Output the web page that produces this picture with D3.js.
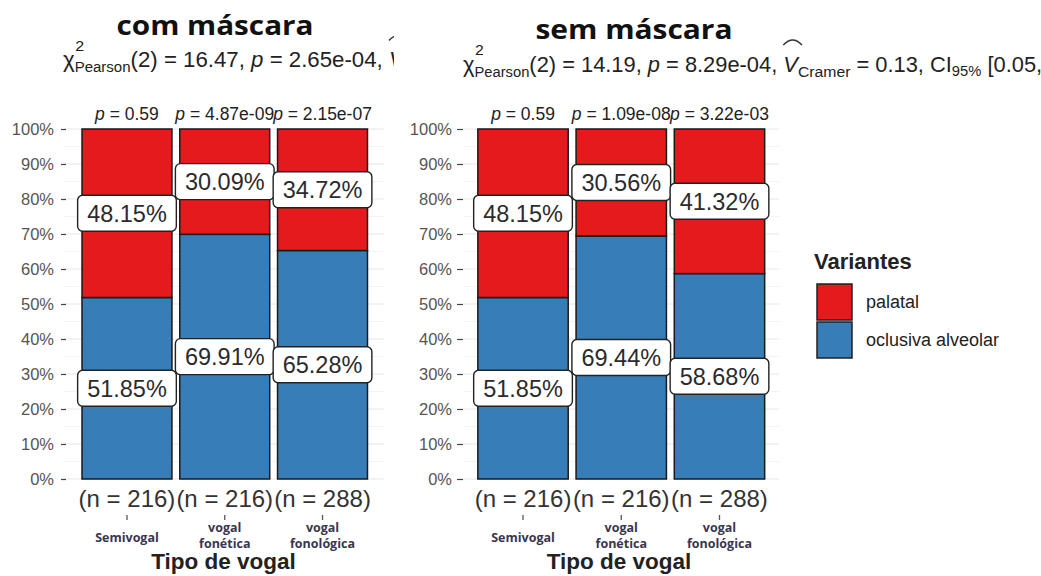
<!DOCTYPE html>
<html><head><meta charset="utf-8">
<script src="https://cdn.jsdelivr.net/npm/d3@7"></script>
<style>body{margin:0;background:#fff;}svg{display:block;}</style>
</head><body>
<script>
// ---------- data ----------
const categories = ["Semivogal", "vogal fonética", "vogal fonológica"];
const categoryLines = [["Semivogal"], ["vogal", "fonética"], ["vogal", "fonológica"]];
const variants = ["palatal", "oclusiva alveolar"];
const panelTitles = ["com máscara", "sem máscara"];
const comPalatal = [48.15, 30.09, 34.72];
const comOclusiva = [51.85, 69.91, 65.28];
const semPalatal = [48.15, 30.56, 41.32];
const semOclusiva = [51.85, 69.44, 58.68];
const comPValues = ["0.59", "4.87e-09", "2.15e-07"];
const semPValues = ["0.59", "1.09e-08", "3.22e-03"];
const comN = [216, 216, 288];
const semN = [216, 216, 288];
const comStats = ["2", "16.47", "2.65e-04", "0.14", "0.06", "1.00", "720"];
const semStats = ["2", "14.19", "8.29e-04", "0.13", "0.05", "1.00", "720"];
const yTicks = [0, 10, 20, 30, 40, 50, 60, 70, 80, 90, 100];
const yMinor = [5, 15, 25, 35, 45, 55, 65, 75, 85, 95];

const palette = {"palatal": "#E41A1C", "oclusiva alveolar": "#377EB8"};
const SANS = "'Liberation Sans', Arial, sans-serif";
const OPEN = "'Open Sans', 'Noto Sans', sans-serif";

const panels = [
  {title: panelTitles[0], pal: comPalatal, oc: comOclusiva, pv: comPValues, n: comN, stats: comStats,
   x0: 78.1, x1: 371.4, gx0: 64, gx1: 384, axisX: 66, tickSize: 5, tickPad: 7,
   titleX: 215, titleY: 35, subX: 63, subY: 67, subScale: 1.035, clip: [0, 394], xTitleX: 223.5},
  {title: panelTitles[1], pal: semPalatal, oc: semOclusiva, pv: semPValues, n: semN, stats: semStats,
   x0: 473.9, x1: 768.6, gx0: 463, gx1: 779, axisX: 463, tickSize: 6, tickPad: 5,
   titleX: 634, titleY: 38.5, subX: 463, subY: 71.5, subScale: 1.017, clip: [398, 1041], xTitleX: 619}
];

const W = 1041, H = 576;
const svg = d3.select("body").append("svg").attr("width", W).attr("height", H);
const defs = svg.append("defs");

const y = d3.scaleLinear().domain([0, 100]).range([479, 129]);

panels.forEach((P, i) => {
  defs.append("clipPath").attr("id", "clip" + i)
    .append("rect").attr("x", P.clip[0]).attr("y", 0).attr("width", P.clip[1] - P.clip[0]).attr("height", H);
  const g = svg.append("g").attr("clip-path", `url(#clip${i})`);

  const x = d3.scaleBand().domain(categories).range([P.x0, P.x1]).paddingInner(0.08).paddingOuter(0.04);

  // gridlines
  g.append("g").selectAll("line.minor").data(yMinor).join("line")
    .attr("x1", P.gx0).attr("x2", P.gx1).attr("y1", d => y(d)).attr("y2", d => y(d))
    .attr("stroke", "#f0f0f0").attr("stroke-width", 0.8);
  g.append("g").selectAll("line.major").data(yTicks).join("line")
    .attr("x1", P.gx0).attr("x2", P.gx1).attr("y1", d => y(d)).attr("y2", d => y(d))
    .attr("stroke", "#e6e6e6").attr("stroke-width", 1);

  // stacked bars
  const rows = categories.map((c, j) => ({cat: c, "oclusiva alveolar": P.oc[j], "palatal": P.pal[j]}));
  const series = d3.stack().keys(["oclusiva alveolar", "palatal"])(rows);
  g.append("g").selectAll("g").data(series).join("g")
    .attr("fill", s => palette[s.key])
    .selectAll("rect").data(s => s).join("rect")
    .attr("x", d => x(d.data.cat)).attr("width", x.bandwidth())
    .attr("y", d => y(d[1])).attr("height", d => y(d[0]) - y(d[1]))
    .attr("stroke", "#1a1a1a").attr("stroke-width", 1.5);

  // y axis
  const ax = g.append("g").attr("transform", `translate(${P.axisX},0)`)
    .call(d3.axisLeft(y).tickValues(yTicks).tickFormat(d => d + "%").tickSize(P.tickSize).tickPadding(P.tickPad));
  ax.select(".domain").remove();
  ax.selectAll(".tick line").attr("stroke", "#444").attr("stroke-width", 1.2);
  ax.selectAll(".tick text").attr("font-family", SANS).attr("font-size", 16.5).attr("fill", "#555");

  // percentage labels
  const labels = [];
  categories.forEach((c, j) => {
    labels.push({cat: c, v: P.pal[j], mid: P.oc[j] + P.pal[j] / 2});
    labels.push({cat: c, v: P.oc[j], mid: P.oc[j] / 2});
  });
  const lg = g.append("g");
  labels.forEach(L => {
    const cx = x(L.cat) + x.bandwidth() / 2, cy = y(L.mid);
    const grp = lg.append("g");
    const rect = grp.append("rect");
    const t = grp.append("text").attr("x", cx).attr("y", cy + 8.3)
      .attr("text-anchor", "middle").attr("font-family", SANS).attr("font-size", 23.5)
      .attr("fill", "#2b2b2b").text(L.v.toFixed(2) + "%");
    const w = t.node().getComputedTextLength() + 19;
    rect.attr("x", cx - w / 2).attr("y", cy - 18).attr("width", w).attr("height", 36)
      .attr("rx", 5).attr("fill", "#fff").attr("stroke", "#222").attr("stroke-width", 1.4);
  });

  // p-values above bars
  categories.forEach((c, j) => {
    const t = g.append("text").attr("x", x(c) + x.bandwidth() / 2).attr("y", 120)
      .attr("text-anchor", "middle").attr("font-family", SANS).attr("font-size", 17.5).attr("fill", "#222");
    t.append("tspan").attr("font-style", "italic").text("p");
    t.append("tspan").text(" = " + P.pv[j]);
  });

  // n labels
  categories.forEach((c, j) => {
    g.append("text").attr("x", x(c) + x.bandwidth() / 2).attr("y", 507)
      .attr("text-anchor", "middle").attr("font-family", SANS).attr("font-size", 24).attr("fill", "#333")
      .text(`(n = ${P.n[j]})`);
  });

  // category ticks and labels
  categories.forEach((c, j) => {
    const cx = x(c) + x.bandwidth() / 2;
    g.append("line").attr("x1", cx).attr("x2", cx).attr("y1", 515).attr("y2", 520)
      .attr("stroke", "#555").attr("stroke-width", 1.3);
    const lines = categoryLines[j];
    const t = g.append("text").attr("text-anchor", "middle").attr("font-family", OPEN)
      .attr("font-weight", "bold").attr("font-size", 12.5).attr("fill", "#3a3550");
    if (lines.length === 1) {
      t.append("tspan").attr("x", cx).attr("y", 542).text(lines[0]);
    } else {
      t.append("tspan").attr("x", cx).attr("y", 532).text(lines[0]);
      t.append("tspan").attr("x", cx).attr("y", 548).text(lines[1]);
    }
  });

  // x axis title
  g.append("text").attr("x", P.xTitleX).attr("y", 569).attr("text-anchor", "middle")
    .attr("font-family", SANS).attr("font-weight", "bold").attr("font-size", 22.5).attr("fill", "#222")
    .text("Tipo de vogal");

  // panel title
  g.append("text").attr("x", P.titleX).attr("y", P.titleY).attr("text-anchor", "middle")
    .attr("font-family", OPEN).attr("font-weight", "bold").attr("font-size", 26).attr("fill", "#111")
    .attr("textLength", 197).attr("lengthAdjust", "spacingAndGlyphs")
    .text(P.title);

  // subtitle
  const s = P.stats;
  const sg = g.append("g").attr("transform", `translate(${P.subX},${P.subY}) scale(${P.subScale},1)`);
  const st = sg.append("text").attr("x", 0).attr("y", 0)
    .attr("font-family", SANS).attr("font-size", 21.5).attr("fill", "#222");
  const parts = [
    {t: "χ"},
    {t: "Pearson", size: 14.5, dy: 5},
    {t: `(${s[0]}) = ${s[1]}, `, dy: -5},
    {t: "p", italic: true},
    {t: ` = ${s[2]}, `},
    {t: "V", italic: true, hat: true},
    {t: "Cramer", size: 15.5, dy: 5},
    {t: ` = ${s[3]}, CI`, dy: -5},
    {t: "95%", size: 14.5, dy: 4},
    {t: ` [${s[4]}, ${s[5]}], `, dy: -4},
    {t: "n", italic: true},
    {t: "obs", size: 15, dy: 5},
    {t: ` = ${s[6]}`, dy: -5}
  ];
  let idx = 0, hatIdx = -1;
  parts.forEach(p => {
    const sp = st.append("tspan").text(p.t);
    if (p.size) sp.attr("font-size", p.size);
    if (p.dy) sp.attr("dy", p.dy);
    if (p.italic) sp.attr("font-style", "italic");
    if (p.hat) hatIdx = idx;
    idx += p.t.length;
  });
  const chiExt = st.node().getExtentOfChar(0);
  sg.append("text").attr("x", chiExt.x + chiExt.width + 0.5).attr("y", -16.5)
    .attr("font-family", SANS).attr("font-size", 15.5).attr("fill", "#222").text("2");
  const vExt = st.node().getExtentOfChar(hatIdx);
  const hx0 = vExt.x + 0, hx1 = vExt.x + vExt.width + 4, hy = -26.5;
  sg.append("path").attr("d", `M${hx0},${hy} Q${(hx0 + hx1) / 2},${hy - 10} ${hx1},${hy}`)
    .attr("fill", "none").attr("stroke", "#333").attr("stroke-width", 1.4);
});

// legend
const leg = svg.append("g");
leg.append("text").attr("x", 814).attr("y", 269).attr("font-family", SANS).attr("font-weight", "bold")
  .attr("font-size", 22).attr("fill", "#222").text("Variantes");
variants.forEach((v, k) => {
  const ky = 284 + k * 38;
  leg.append("rect").attr("x", 817).attr("y", ky).attr("width", 35).attr("height", 36)
    .attr("fill", palette[v]).attr("stroke", "#222").attr("stroke-width", 1.5);
  leg.append("text").attr("x", 866).attr("y", ky + 24).attr("font-family", SANS)
    .attr("font-size", 18).attr("fill", "#222").text(v);
});
</script>
</body></html>
